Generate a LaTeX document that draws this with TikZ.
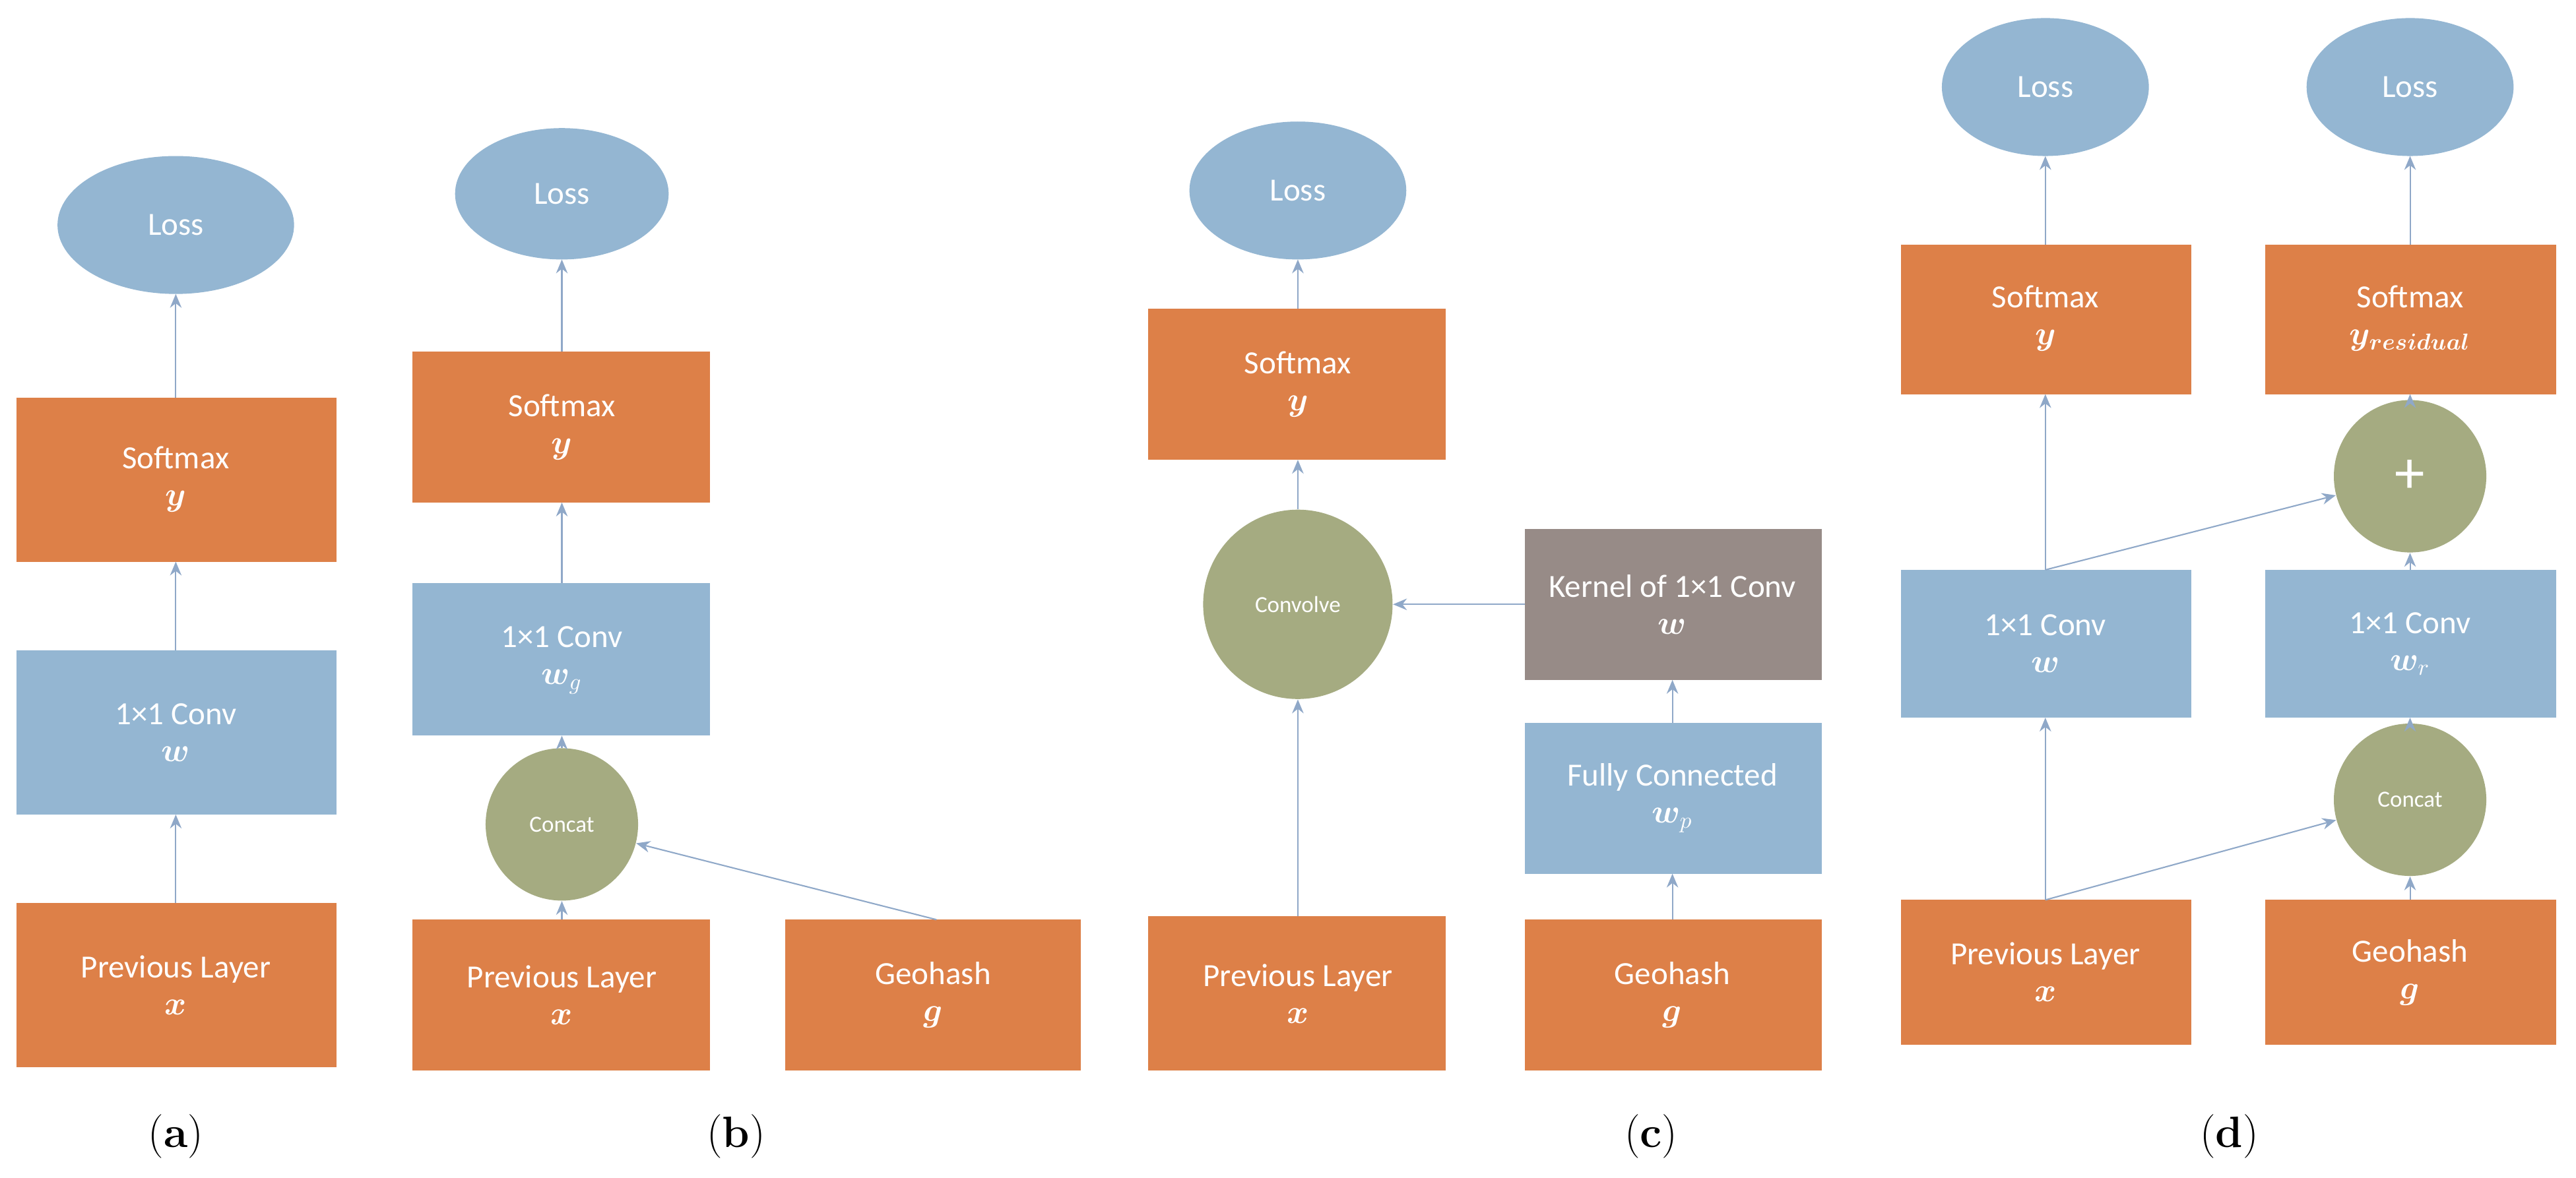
\documentclass[tikz,border=0pt]{standalone}
\usepackage{amsmath,bm}
\usepackage{fontspec}
\setmainfont{Carlito}
\newfontfamily\lmfont{Latin Modern Roman}
\usetikzlibrary{arrows.meta}
\definecolor{org}{RGB}{221,128,72}
\definecolor{blu}{RGB}{148,182,210}
\definecolor{grn}{RGB}{165,171,129}
\definecolor{gry}{RGB}{151,139,135}
\definecolor{arr}{RGB}{143,168,200}
\begin{document}
\begin{tikzpicture}[x=0.025cm,y=-0.025cm,
  txt/.style={text=white,font=\fontsize{14}{18}\selectfont,align=center},
  box/.style={txt,draw=none,inner sep=0},
  ell/.style={ellipse,fill=blu,txt},
  circ/.style={circle,fill=grn,txt,inner sep=0},
  lab/.style={font=\lmfont\fontsize{19}{22}\selectfont},
  ar/.style={draw=arr,line width=0.6pt,-{Stealth[length=6pt,width=5pt]}}]
\useasboundingbox (0,0) rectangle (1568,717);
\newcommand{\bx}[6]{\fill[#2] (#3,#4) rectangle (#5,#6); \node[box] (#1) at ({(#3+#5)/2},{(#4+#6)/2}) {}; \path (#3,#4) coordinate (#1-nw) (#5,#6) coordinate (#1-se);}
% (a)
\fill[blu] (107,137) ellipse [x radius=72,y radius=42]; \node[txt] (la) at (107,137) {Loss};
\fill[org] (10,242) rectangle (205,342); \node[txt] (sa) at (107,292) {Softmax\\[-2pt]$\bm{y}$};
\fill[blu] (10,396) rectangle (205,496); \node[txt] (ca) at (107,446) {1×1 Conv\\[-2pt]$\bm{w}$};
\fill[org] (10,550) rectangle (205,650); \node[txt] (pa) at (107,600) {Previous Layer\\[-2pt]$\bm{x}$};
\coordinate (a1) at (107,550); \coordinate (a2) at (107,496); \coordinate (a3) at (107,396); \coordinate (a4) at (107,342); \coordinate (a5) at (107,242); \coordinate (a6) at (107,179);
\draw[ar] (a1)--(a2); \draw[ar] (a3)--(a4); \draw[ar] (a5)--(a6);
\node[lab] (A) at (107,692) {(\textbf{a})};
% (b)
\fill[blu] (342,118) ellipse [x radius=65,y radius=40]; \node[txt] (lb) at (342,118) {Loss};
\fill[org] (251,214) rectangle (432,306); \node[txt] (sb) at (342,260) {Softmax\\[-2pt]$\bm{y}$};
\fill[blu] (251,355) rectangle (432,448); \node[txt] (cb) at (342,402) {1×1 Conv\\[-2pt]$\bm{w}_g$};
\node[circ,minimum size=66,font=\fontsize{10}{12}\selectfont] (kb) at (342,502) {Concat};
\fill[org] (251,560) rectangle (432,652); \node[txt] (pb) at (342,606) {Previous Layer\\[-2pt]$\bm{x}$};
\fill[org] (478,560) rectangle (658,652); \node[txt] (gb) at (568,606) {Geohash\\[-2pt]$\bm{g}$};
\coordinate (b1) at (342,560); \coordinate (b2) at (342,448); \coordinate (b3) at (342,355); \coordinate (b4) at (342,306); \coordinate (b5) at (342,214); \coordinate (b6) at (342,158); \coordinate (b7) at (570,560);
\draw[ar] (b1)--(kb); \draw[ar] (kb)--(b2); \draw[ar] (b3)--(b4); \draw[ar] (b5)--(b6); \draw[ar] (b7)--(kb);
\node[lab] (B) at (448,692) {(\textbf{b})};
% (c)
\fill[blu] (790,116) ellipse [x radius=66,y radius=42]; \node[txt] (lc) at (790,116) {Loss};
\fill[org] (699,188) rectangle (880,280); \node[txt] (sc) at (790,234) {Softmax\\[-2pt]$\bm{y}$};
\node[circ,minimum size=82,font=\fontsize{10}{12}\selectfont] (vc) at (790,368) {Convolve};
\fill[gry] (928,322) rectangle (1109,414); \node[txt] (kc) at (1018,368) {Kernel of 1×1 Conv\\[-2pt]$\bm{w}$};
\fill[blu] (928,440) rectangle (1109,532); \node[txt] (fc) at (1018,486) {Fully Connected\\[-2pt]$\bm{w}_p$};
\fill[org] (699,558) rectangle (880,652); \node[txt] (pc) at (790,605) {Previous Layer\\[-2pt]$\bm{x}$};
\fill[org] (928,560) rectangle (1109,652); \node[txt] (gc) at (1018,606) {Geohash\\[-2pt]$\bm{g}$};
\coordinate (c1) at (790,558); \coordinate (c2) at (790,280); \coordinate (c3) at (790,188); \coordinate (c4) at (790,158);
\coordinate (c5) at (928,368); \coordinate (c6) at (1018,560); \coordinate (c7) at (1018,532); \coordinate (c8) at (1018,440); \coordinate (c9) at (1018,414);
\draw[ar] (c1)--(vc); \draw[ar] (vc)--(c2); \draw[ar] (c3)--(c4); \draw[ar] (c5)--(vc); \draw[ar] (c6)--(c7); \draw[ar] (c8)--(c9);
\node[lab] (C) at (1005,692) {(\textbf{c})};
% (d)
\fill[blu] (1245,53) ellipse [x radius=63,y radius=42]; \node[txt] (ld1) at (1245,53) {Loss};
\fill[blu] (1467,53) ellipse [x radius=63,y radius=42]; \node[txt] (ld2) at (1467,53) {Loss};
\fill[org] (1157,149) rectangle (1334,240); \node[txt] (sd1) at (1245,194) {Softmax\\[-2pt]$\bm{y}$};
\fill[org] (1379,149) rectangle (1556,240); \node[txt] (sd2) at (1467,194) {Softmax\\[-2pt]$\bm{y_{residual}}$};
\node[circ,minimum size=66,font=\fontsize{26}{26}\selectfont] (pl) at (1467,290) {+};
\fill[blu] (1157,347) rectangle (1334,437); \node[txt] (cd1) at (1245,392) {1×1 Conv\\[-2pt]$\bm{w}$};
\fill[blu] (1379,347) rectangle (1556,437); \node[txt] (cd2) at (1467,392) {1×1 Conv\\[-2pt]$\bm{w}_r$};
\node[circ,minimum size=66,font=\fontsize{10}{12}\selectfont] (kd) at (1467,487) {Concat};
\fill[org] (1157,548) rectangle (1334,636); \node[txt] (pd) at (1245,592) {Previous Layer\\[-2pt]$\bm{x}$};
\fill[org] (1379,548) rectangle (1556,636); \node[txt] (gd) at (1467,592) {Geohash\\[-2pt]$\bm{g}$};
\coordinate (d1) at (1245,548); \coordinate (d2) at (1245,437); \coordinate (d3) at (1245,347); \coordinate (d4) at (1245,240);
\coordinate (d5) at (1245,149); \coordinate (d6) at (1245,95); \coordinate (d7) at (1467,149); \coordinate (d8) at (1467,95);
\coordinate (d9) at (1467,240); \coordinate (d10) at (1467,347); \coordinate (d11) at (1467,437); \coordinate (d12) at (1467,548);
\draw[ar] (d1)--(d2); \draw[ar] (d3)--(d4); \draw[ar] (d5)--(d6); \draw[ar] (d7)--(d8);
\draw[ar] (pl)--(d9); \draw[ar] (d10)--(pl); \draw[ar] (kd)--(d11); \draw[ar] (d12)--(kd);
\draw[ar] (d3)--(pl); \draw[ar] (d1)--(kd);
\node[lab] (D) at (1357,692) {(\textbf{d})};
\end{tikzpicture}
\end{document}
